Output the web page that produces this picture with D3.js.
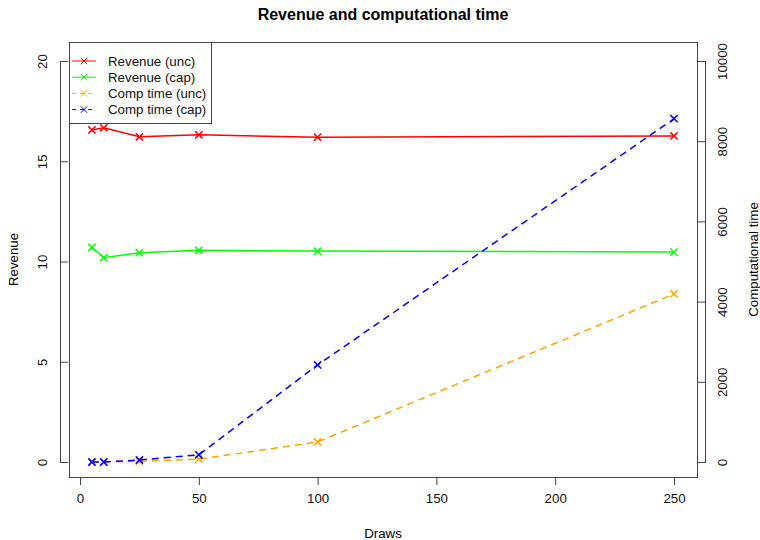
<!DOCTYPE html>
<html>
<head>
<meta charset="utf-8">
<script src="https://cdn.jsdelivr.net/npm/d3@7"></script>
<style>
  body { margin: 0; background: #fff; }
  svg { font-family: "Liberation Sans", Arial, sans-serif; }
</style>
</head>
<body>
<svg id="chart" width="760" height="540"></svg>
<script>
// data
const draws = [5, 10, 25, 50, 100, 250];
const revenueUnc = [16.56, 16.67, 16.22, 16.32, 16.2, 16.26];
const revenueCap = [10.71, 10.19, 10.44, 10.56, 10.52, 10.47];
const compTimeUnc = [0, 0, 20, 70, 500, 4190];
const compTimeCap = [0, 0, 50, 180, 2420, 8560];

const xTicks = [0, 50, 100, 150, 200, 250];
const revTicks = [0, 5, 10, 15, 20];
const timeTicks = [0, 2000, 4000, 6000, 8000, 10000];

const series = [
    { name: 'Revenue (unc)', values: revenueUnc, axis: 'left', color: '#ff0000', dash: null },
    { name: 'Revenue (cap)', values: revenueCap, axis: 'left', color: '#00ff00', dash: null },
    { name: 'Comp time (unc)', values: compTimeUnc, axis: 'right', color: '#ffa500', dash: '7,5' },
    { name: 'Comp time (cap)', values: compTimeCap, axis: 'right', color: '#0000ff', dash: '7,5' }
];

const fs = 13.3;
const box = { left: 69, right: 697, top: 42, bottom: 477 };
const svg = d3.select('#chart');

const x = d3.scaleLinear().domain([0, 250]).range([80, 674]);
const yRev = d3.scaleLinear().domain([0, 20]).range([462, 61]);
const yTime = d3.scaleLinear().domain([0, 10000]).range([462, 61]);

// title
svg.append('text')
    .attr('x', (box.left + box.right) / 2).attr('y', 20)
    .attr('text-anchor', 'middle')
    .attr('font-size', 16).attr('font-weight', 'bold')
    .text('Revenue and computational time');

const axisStyle = g => {
    g.selectAll('.tick line').attr('stroke', '#444');
    g.selectAll('.tick text').attr('font-size', fs).attr('fill', '#111').attr('font-family', 'Liberation Sans, Arial, sans-serif');
};

// x axis
svg.append('g')
    .attr('transform', `translate(0,${box.bottom})`)
    .call(d3.axisBottom(x).tickValues(xTicks).tickSize(8).tickPadding(9).tickSizeOuter(0))
    .call(axisStyle)
    .call(g => g.select('.domain').remove());
svg.append('line')
    .attr('x1', x(0)).attr('x2', x(250)).attr('y1', box.bottom + 0.5).attr('y2', box.bottom + 0.5)
    .attr('stroke', '#444');

// left axis
const leftAxis = svg.append('g')
    .attr('transform', `translate(${box.left - 9},0)`)
    .call(d3.axisLeft(yRev).tickValues(revTicks).tickSize(0).tickPadding(0).tickSizeOuter(0))
    .call(axisStyle);
leftAxis.select('.domain').attr('stroke', '#444').attr('d', `M0.5,${yRev(0)}V${yRev(20)}`);
leftAxis.selectAll('.tick line').attr('x2', 8);
leftAxis.selectAll('.tick text')
    .attr('x', 0).attr('dy', 0)
    .attr('text-anchor', 'middle')
    .attr('transform', 'translate(-13,0) rotate(-90)');

// right axis
const rightAxis = svg.append('g')
    .attr('transform', `translate(${box.right + 9},0)`)
    .call(d3.axisRight(yTime).tickValues(timeTicks).tickFormat(d3.format('d')).tickSize(0).tickPadding(0).tickSizeOuter(0))
    .call(axisStyle);
rightAxis.select('.domain').attr('stroke', '#444').attr('d', `M-0.5,${yTime(0)}V${yTime(10000)}`);
rightAxis.selectAll('.tick line').attr('x2', -8);
rightAxis.selectAll('.tick text')
    .attr('x', 0).attr('dy', 0)
    .attr('text-anchor', 'middle')
    .attr('transform', 'translate(21,0) rotate(-90)');

// axis titles
svg.append('text').attr('x', 383).attr('y', 538).attr('text-anchor', 'middle')
    .attr('font-size', fs).text('Draws');
svg.append('text').attr('transform', `translate(18,${(box.top + box.bottom) / 2}) rotate(-90)`)
    .attr('text-anchor', 'middle').attr('font-size', fs).text('Revenue');
svg.append('text').attr('transform', `translate(758,${(box.top + box.bottom) / 2}) rotate(-90)`)
    .attr('text-anchor', 'middle').attr('font-size', fs).text('Computational time');

// plot box
svg.append('rect')
    .attr('x', box.left + 0.5).attr('y', box.top + 0.5)
    .attr('width', box.right - box.left).attr('height', box.bottom - box.top)
    .attr('fill', 'none').attr('stroke', '#444');

// series
const crossPath = (cx, cy, r) => `M${cx - r},${cy - r}L${cx + r},${cy + r}M${cx - r},${cy + r}L${cx + r},${cy - r}`;

series.forEach(s => {
    const yScale = s.axis === 'left' ? yRev : yTime;
    const pts = draws.map((d, i) => [x(d), yScale(s.values[i])]);
    const g = svg.append('g');
    g.append('path')
        .attr('d', d3.line()(pts))
        .attr('fill', 'none').attr('stroke', s.color).attr('stroke-width', 1.5)
        .attr('stroke-dasharray', s.dash);
    g.selectAll('path.pt').data(pts).join('path').classed('pt', true)
        .attr('d', p => crossPath(p[0], p[1], 3.6))
        .attr('stroke', s.color).attr('stroke-width', 1.5).attr('fill', 'none');
});

// legend
const legend = svg.append('g');
legend.append('rect')
    .attr('x', box.left + 0.5).attr('y', box.top + 0.5)
    .attr('width', 142).attr('height', 81)
    .attr('fill', '#fff').attr('stroke', '#444');
series.forEach((s, i) => {
    const ly = 61 + i * 16.2;
    legend.append('line')
        .attr('x1', 72).attr('x2', 96).attr('y1', ly).attr('y2', ly)
        .attr('stroke', s.color).attr('stroke-width', 1)
        .attr('stroke-dasharray', s.dash ? '4,4' : null);
    legend.append('path').attr('d', crossPath(84, ly, 3.2))
        .attr('stroke', s.color).attr('stroke-width', 1).attr('fill', 'none');
    legend.append('text')
        .attr('x', 108).attr('y', ly + 4.6)
        .attr('font-size', fs).attr('fill', '#111')
        .text(s.name);
});
</script>
</body>
</html>
